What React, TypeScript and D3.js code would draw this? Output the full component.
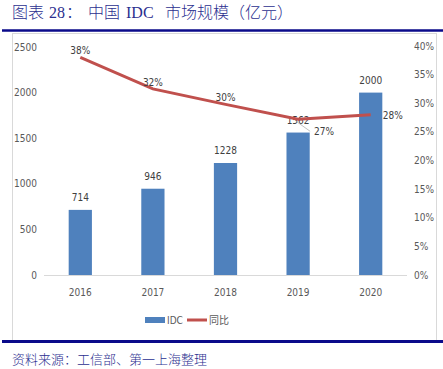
import React from "react";
import * as d3 from "d3";

const years = ["2016", "2017", "2018", "2019", "2020"];
const idc = [714, 946, 1228, 1562, 2000];
const yoy = [0.38, 0.325, 0.298, 0.272, 0.28];
const yoyLabels = ["38%", "32%", "30%", "27%", "28%"];
const leftTicks = [0, 500, 1000, 1500, 2000, 2500];
const rightTicks = [0, 0.05, 0.1, 0.15, 0.2, 0.25, 0.3, 0.35, 0.4];

const W = 443, H = 369;
const axisFont = "'Liberation Sans Narrow', 'DejaVu Sans Condensed', sans-serif";
const blue = "#2B2F8F";
const navy = "#0A0A8A";
const latinTitle = "'Liberation Serif', serif";
const cjkTitle = "'Noto Sans CJK SC', sans-serif";

const titleParts: [string, number, boolean][] = [
  ["图表", 12, false],
  ["28", 49, true],
  ["：", 66, false],
  ["中国", 88, false],
  ["IDC", 126, true],
  ["市场规模（亿元）", 165, false],
];

export default function App() {
  const x = d3.scaleBand<string>().domain(years).range([44, 407]).paddingInner(0.68).paddingOuter(0.34);
  const yL = d3.scaleLinear().domain([0, 2500]).range([275, 47]);
  const yR = d3.scaleLinear().domain([0, 0.4]).range([275, 46]);
  const cx = (y: string) => (x(y) as number) + x.bandwidth() / 2;
  const line = d3.line<number>().x((_, i) => cx(years[i])).y((d) => yR(d));
  return (
    <svg width={W} height={H} style={{ position: "absolute", left: 0, top: 0 }}>
      <rect width={W} height={H} fill="#fff" />
      {titleParts.map(([t, tx, latin], i) => (
        <text key={i} x={tx} y={18} fontSize={16} fill={blue} fontFamily={latin ? latinTitle : cjkTitle} fontWeight={300}>
          {t}
        </text>
      ))}
      <line x1={2} x2={443} y1={30.5} y2={30.5} stroke={navy} strokeWidth={2.5} />
      <rect x={12.5} y={33.5} width={424} height={307} fill="none" stroke="#D9D9D9" />
      <line x1={2} x2={443} y1={341.5} y2={341.5} stroke={navy} strokeWidth={3} />
      <text x={12} y={364} fontSize={13} fill={blue} fontFamily={cjkTitle} fontWeight={300}>
        资料来源：工信部、第一上海整理
      </text>

      {leftTicks.map((t) => (
        <text key={t} x={37} y={yL(t) + 3.5} textAnchor="end" fontSize={10} fill="#595959" fontFamily={axisFont}>
          {t}
        </text>
      ))}
      {rightTicks.map((t) => (
        <text key={t} x={414} y={yR(t) + 3.5} textAnchor="start" fontSize={10} fill="#595959" fontFamily={axisFont}>
          {Math.round(t * 100) + "%"}
        </text>
      ))}
      <line x1={44} x2={407} y1={275.5} y2={275.5} stroke="#D9D9D9" />
      {years.map((y) => (
        <text key={y} x={cx(y)} y={296} textAnchor="middle" fontSize={10} fill="#595959" fontFamily={axisFont}>
          {y}
        </text>
      ))}
      {idc.map((v, i) => (
        <g key={i}>
          <rect x={x(years[i])} y={yL(v)} width={x.bandwidth()} height={yL(0) - yL(v)} fill="#4F81BD" />
          <text x={cx(years[i])} y={yL(v) - 9} textAnchor="middle" fontSize={10} fill="#404040" fontFamily={axisFont}>
            {v}
          </text>
        </g>
      ))}
      <path d={line(yoy) as string} fill="none" stroke="#C0504D" strokeWidth={3} />
      <line x1={cx(years[3]) - 2} y1={yR(yoy[3]) + 2} x2={cx(years[3]) + 12} y2={yR(yoy[3]) + 12} stroke="#A6A6A6" strokeWidth={0.7} />
      {yoyLabels.map((l, i) => {
        let lx = cx(years[i]);
        let ly = yR(yoy[i]) - 3;
        if (i === 3) { lx = cx(years[i]) + 16; ly = yR(yoy[i]) + 16; }
        if (i === 4) { lx = cx(years[i]) + 12; ly = yR(yoy[i]) + 4; }
        return (
          <text key={i} x={lx} y={ly} textAnchor={i >= 3 ? "start" : "middle"} fontSize={10} fill="#404040" fontFamily={axisFont}>
            {l}
          </text>
        );
      })}

      <rect x={145} y={317} width={20} height={6} fill="#4F81BD" />
      <text x={167} y={324} fontSize={10} fill="#595959" fontFamily={axisFont}>IDC</text>
      <line x1={187} x2={207} y1={320} y2={320} stroke="#C0504D" strokeWidth={3} />
      <text x={209} y={324} fontSize={10} fill="#595959" fontFamily="'Noto Sans CJK SC', sans-serif">同比</text>
    </svg>
  );
}
